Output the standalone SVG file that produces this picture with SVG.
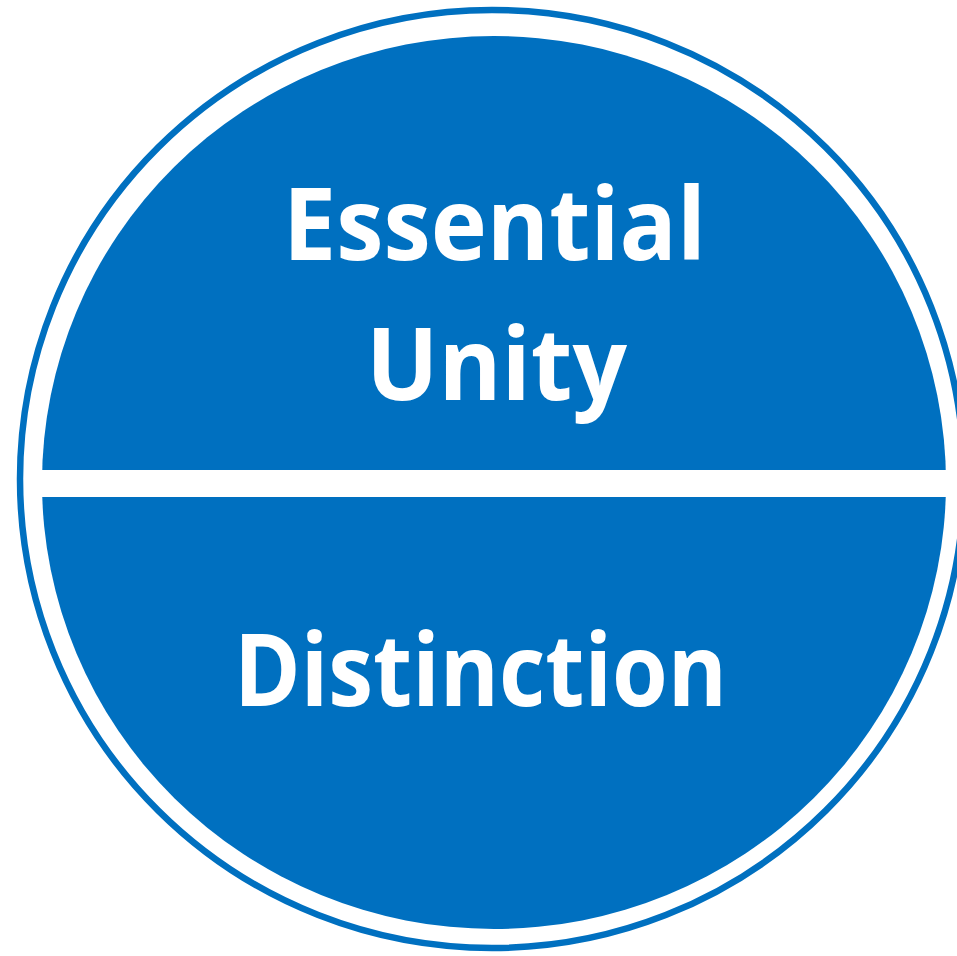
<svg xmlns="http://www.w3.org/2000/svg" width="957" height="956" viewBox="0 0 957 956">
<style>
.lbl{font-family:"Open Sans","Noto Sans","Liberation Sans",sans-serif;font-weight:700;font-size:100px;fill:#fff;text-anchor:middle}
</style>
<rect width="957" height="956" fill="#fff"/>
<g id="ring"><ellipse cx="492" cy="479" rx="472" ry="469" fill="none" stroke="#0070C0" stroke-width="6.5"/></g>
<g id="disc">
<ellipse cx="494" cy="482.5" rx="452" ry="446.5" fill="#0070C0"/>
<rect x="30" y="470" width="930" height="27" fill="#fff"/>
</g>
<g id="top"><text class="lbl" x="494.5" y="260" textLength="423" lengthAdjust="spacingAndGlyphs">Essential</text><text class="lbl" x="496.5" y="400" textLength="261" lengthAdjust="spacingAndGlyphs">Unity</text></g>
<g id="bottom"><text class="lbl" x="480.5" y="706" textLength="493" lengthAdjust="spacingAndGlyphs">Distinction</text></g>
</svg>
